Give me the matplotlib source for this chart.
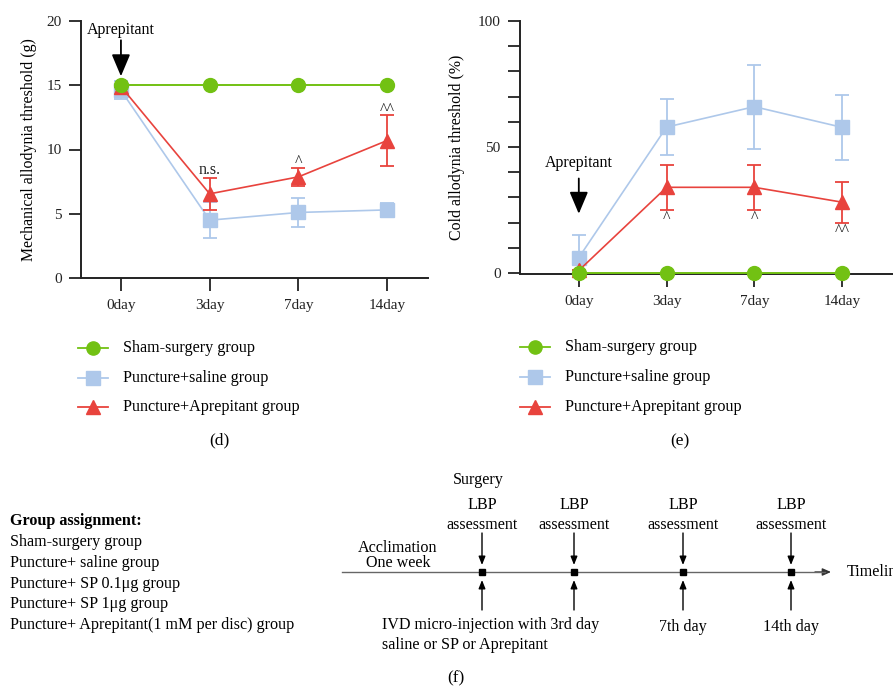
import matplotlib
matplotlib.use("Agg")
import matplotlib.pyplot as plt
import numpy as np

plt.rcParams['font.family'] = ['Liberation Serif', 'DejaVu Serif']

W, H = 893, 687

days = ["0day", "3day", "7day", "14day"]
groups = ["Sham-surgery group", "Puncture+saline group", "Puncture+Aprepitant group"]

# Panel (d): mechanical allodynia threshold (g)
mech_sham = [15.0, 15.0, 15.0, 15.0]
mech_sham_err = [0.0, 0.0, 0.0, 0.0]
mech_saline = [14.6, 4.5, 5.1, 5.3]
mech_saline_err = [0.7, 1.4, 1.15, 0.55]
mech_apre = [14.9, 6.55, 7.87, 10.7]
mech_apre_err = [0.0, 1.25, 0.7, 2.0]
mech_marks = ["", "n.s.", "^", "^^"]
mech_mark_y = [0, 8.4, 9.0, 13.1]

# Panel (e): cold allodynia threshold (%)
cold_sham = [0.0, 0.0, 0.0, 0.0]
cold_sham_err = [0.0, 0.0, 0.0, 0.0]
cold_saline = [6.1, 57.9, 66.0, 57.8]
cold_saline_err = [8.9, 11.0, 16.7, 13.0]
cold_saline_err_low = [6.1, 11.0, 16.7, 13.0]
cold_apre = [1.0, 34.0, 34.0, 28.1]
cold_apre_err = [0.0, 9.0, 9.0, 8.2]
cold_marks = ["", "^", "^", "^^"]
cold_mark_y = [0, 22.0, 22.0, 16.8]

# Panel (f): design
assign_title = "Group assignment:"
assign_lines = ["Sham-surgery group", "Puncture+ saline group", "Puncture+ SP 0.1\u03bcg group",
                "Puncture+ SP 1\u03bcg group", "Puncture+ Aprepitant(1 mM per disc) group"]
time_pts_px = [482, 574, 683, 791]
bottom_labels = ["", "", "7th day", "14th day"]

GREEN = "#72c113"
BLUE = "#aec8ea"
RED = "#e8433d"
AXC = "#222222"
FS = 11.6

fig = plt.figure(figsize=(W / 100, H / 100), dpi=100)

def fx(x):
    return x / W

def fy(y):
    return 1 - y / H

def make_axes(left, right, top, bottom):
    return fig.add_axes([fx(left), fy(bottom), fx(right) - fx(left), (bottom - top) / H])

def style_axes(ax):
    for s in ["top", "right"]:
        ax.spines[s].set_visible(False)
    for s in ["left", "bottom"]:
        ax.spines[s].set_linewidth(1.4)
        ax.spines[s].set_color(AXC)
    ax.tick_params(axis="both", which="both", direction="out", length=9, width=1.3,
                   color=AXC, labelsize=11, labelcolor="#222222")
    ax.tick_params(axis="y", pad=5)
    ax.tick_params(axis="x", pad=6)
    ax.patch.set_alpha(0)

def plot_series(ax, xs, sham, sham_e, sal, sal_e, apr, apr_e, sal_lower=None):
    lw = 1.2
    sal_yerr = [sal_lower if sal_lower is not None else sal_e, sal_e]
    ax.errorbar(xs, sal, yerr=sal_yerr, color=BLUE, marker="s", markersize=10, lw=lw,
                elinewidth=1.3, capsize=5, capthick=1.3, zorder=3, clip_on=False)
    ax.errorbar(xs, apr, yerr=apr_e, color=RED, marker="^", markersize=10.5, lw=lw,
                elinewidth=1.3, capsize=5, capthick=1.3, zorder=4, clip_on=False)
    ax.errorbar(xs, sham, yerr=sham_e, color=GREEN, marker="o", markersize=10, lw=1.4,
                elinewidth=1.3, capsize=5, capthick=1.3, zorder=5, clip_on=False)

xs = np.arange(len(days))

# ---- panel (d)
axd = make_axes(81, 428, 21, 278)
style_axes(axd)
plot_series(axd, xs, mech_sham, mech_sham_err, mech_saline, mech_saline_err, mech_apre, mech_apre_err)
axd.set_xlim(-0.45, 3.46)
axd.set_ylim(0, 20)
axd.set_yticks([0, 5, 10, 15, 20])
axd.set_xticks(xs)
axd.set_xticklabels(days)
axd.set_ylabel("Mechanical allodynia threshold (g)", fontsize=11.4, labelpad=7)
for x, t, y in zip(xs, mech_marks, mech_mark_y):
    if t:
        axd.text(x, y, t, ha="center", va="center", fontsize=11.5, color="#222222")
axd.annotate("", xy=(0, 15.7), xytext=(0, 18.5),
             arrowprops=dict(arrowstyle="-|>,head_length=0.9,head_width=0.38", mutation_scale=15,
                             lw=1.3, color="black", shrinkA=0, shrinkB=0))
axd.text(0, 19.3, "Aprepitant", ha="center", va="center", fontsize=11.5)

# ---- panel (e)
axe = make_axes(520, 893, 21, 274)
style_axes(axe)
plot_series(axe, xs, cold_sham, cold_sham_err, cold_saline, cold_saline_err, cold_apre, cold_apre_err,
            sal_lower=cold_saline_err_low)
axe.set_xlim(-0.67, 3.58)
axe.set_ylim(-0.4, 100)
axe.set_yticks([0, 50, 100])
axe.set_yticks(np.arange(0, 101, 10), minor=True)
axe.set_xticks(xs)
axe.set_xticklabels(days)
axe.set_ylabel("Cold allodynia threshold (%)", fontsize=11.4, labelpad=9)
for x, t, y in zip(xs, cold_marks, cold_mark_y):
    if t:
        axe.text(x, y, t, ha="center", va="center", fontsize=11.5, color="#222222")
axe.annotate("", xy=(0, 23.5), xytext=(0, 37.5),
             arrowprops=dict(arrowstyle="-|>,head_length=0.9,head_width=0.38", mutation_scale=15,
                             lw=1.3, color="black", shrinkA=0, shrinkB=0))
axe.text(0, 43.5, "Aprepitant", ha="center", va="center", fontsize=11.5)

# ---- legends
def legend_at(x0, rows):
    colors = [GREEN, BLUE, RED]
    markers = ["o", "s", "^"]
    for (y, c, m, g) in zip(rows, colors, markers, groups):
        fig.add_artist(plt.Line2D([fx(x0), fx(x0 + 30)], [fy(y), fy(y)], color=c, lw=1.3))
        fig.add_artist(plt.Line2D([fx(x0 + 15)], [fy(y)], color=c, marker=m, markersize=9.5, lw=0))
        fig.text(fx(x0 + 45), fy(y), g, ha="left", va="center", fontsize=FS)

legend_at(78, [348, 378, 407])
legend_at(520, [347, 377, 407])
fig.text(fx(219), fy(440), "(d)", ha="center", va="center", fontsize=12.5)
fig.text(fx(680), fy(441), "(e)", ha="center", va="center", fontsize=12.5)

# ---- panel (f)
FF = 11.6
fig.text(fx(10), fy(521), assign_title, ha="left", va="center", fontsize=FF, fontweight="bold")
for i, t in enumerate(assign_lines):
    fig.text(fx(10), fy(542 + i * 20.8), t, ha="left", va="center", fontsize=FF)

ty = 572
fig.add_artist(plt.Line2D([fx(342), fx(825)], [fy(ty), fy(ty)], color="#666666", lw=1.0))
fig.patches.append(matplotlib.patches.FancyArrowPatch(
    (fx(815), fy(ty)), (fx(831), fy(ty)), transform=fig.transFigure,
    arrowstyle="-|>,head_length=0.5,head_width=0.22", mutation_scale=10,
    color="#333333", lw=1.0, shrinkA=0, shrinkB=0))
fig.text(fx(847), fy(ty), "Timeline", ha="left", va="center", fontsize=FF)

for i, x in enumerate(time_pts_px):
    fig.add_artist(plt.Line2D([fx(x)], [fy(ty)], marker="s", markersize=4.5, color="black", lw=0))
    fig.patches.append(matplotlib.patches.FancyArrowPatch(
        (fx(x), fy(533)), (fx(x), fy(565)), transform=fig.transFigure,
        arrowstyle="-|>,head_length=0.5,head_width=0.2", mutation_scale=10,
        color="black", lw=1.0, shrinkA=0, shrinkB=0))
    fig.patches.append(matplotlib.patches.FancyArrowPatch(
        (fx(x), fy(610)), (fx(x), fy(580)), transform=fig.transFigure,
        arrowstyle="-|>,head_length=0.5,head_width=0.2", mutation_scale=10,
        color="black", lw=1.0, shrinkA=0, shrinkB=0))
    fig.text(fx(x), fy(505), "LBP", ha="center", va="center", fontsize=FF)
    fig.text(fx(x), fy(525), "assessment", ha="center", va="center", fontsize=FF)
    if bottom_labels[i]:
        fig.text(fx(x), fy(627), bottom_labels[i], ha="center", va="center", fontsize=FF)

fig.text(fx(478), fy(480), "Surgery", ha="center", va="center", fontsize=FF)
fig.text(fx(398), fy(548), "Acclimation", ha="center", va="center", fontsize=FF)
fig.text(fx(398), fy(563), "One week", ha="center", va="center", fontsize=FF)
fig.text(fx(382), fy(625), "IVD micro-injection with 3rd day", ha="left", va="center", fontsize=FF)
fig.text(fx(382), fy(645), "saline or SP or Aprepitant", ha="left", va="center", fontsize=FF)
fig.text(fx(456), fy(678), "(f)", ha="center", va="center", fontsize=12.5)

fig.savefig("out.png", dpi=100)
